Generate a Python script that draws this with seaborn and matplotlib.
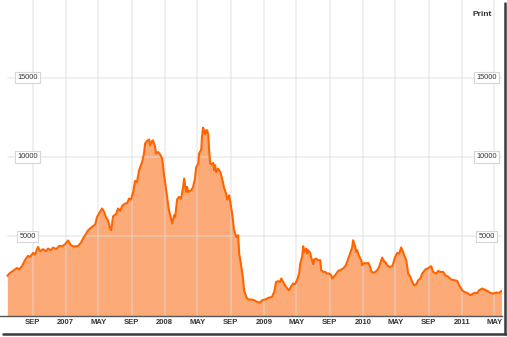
import pandas as pd
import matplotlib.pyplot as plt
import seaborn as sns
from matplotlib.lines import Line2D

# index values, days counted from the first point
start = pd.Timestamp('2006-05-31')
day = [0, 10, 21, 36, 43, 54, 65, 76, 84, 95, 102, 113, 121, 132, 143, 150, 161, 169, 180, 191,
       202, 213, 224, 235, 246, 261, 272, 279, 287, 298, 312, 324, 331, 342, 349, 357, 364, 371, 379, 383,
       390, 401, 408, 416, 423, 430, 442, 449, 456, 464, 471, 478, 486, 497, 504, 508, 515, 523, 526, 534,
       537, 545, 548, 556, 563, 571, 578, 589, 596, 608, 615, 619, 626, 633, 641, 648, 652, 659, 663, 667,
       678, 685, 692, 696, 704, 707, 715, 718, 722, 726, 730, 733, 737, 741, 744, 748, 755, 759, 763, 766,
       770, 777, 785, 792, 799, 807, 810, 818, 822, 829, 836, 844, 851, 855, 862, 869, 873, 881, 888, 899,
       910, 921, 932, 940, 951, 962, 976, 984, 991, 999, 1006, 1010, 1017, 1024, 1032, 1039, 1047, 1054, 1061, 1069,
       1076, 1080, 1087, 1091, 1095, 1102, 1106, 1109, 1117, 1120, 1128, 1131, 1139, 1146, 1154, 1157, 1165, 1172, 1179, 1187,
       1194, 1198, 1209, 1220, 1227, 1238, 1246, 1253, 1264, 1272, 1275, 1279, 1283, 1286, 1290, 1297, 1305, 1308, 1316, 1323,
       1331, 1338, 1342, 1349, 1357, 1364, 1371, 1379, 1382, 1390, 1393, 1401, 1408, 1419, 1423, 1430, 1438, 1445, 1452, 1456,
       1463, 1471, 1478, 1486, 1493, 1500, 1508, 1515, 1523, 1530, 1541, 1549, 1563, 1570, 1581, 1589, 1596, 1607, 1615, 1626,
       1637, 1648, 1659, 1666, 1677, 1685, 1696, 1707, 1714, 1722, 1733, 1740, 1751, 1759, 1770, 1781, 1792, 1803, 1814, 1822]
value = [2497, 2686, 2812, 3001, 2900, 3108, 3487, 3758, 3695, 3947, 3846, 4325, 4054, 4180, 4054, 4224, 4117, 4287, 4180, 4388,
         4369, 4495, 4729, 4432, 4350, 4388, 4603, 4855, 5063, 5378, 5586, 5738, 6217, 6532, 6746, 6532, 6179, 6009, 5485, 5378,
         6261, 6387, 6746, 6595, 6891, 7018, 7099, 7377, 7314, 7793, 8487, 8423, 9161, 9684, 10214, 10845, 11009, 11097, 10737, 11009,
         11053, 10630, 10214, 10315, 10170, 9899, 8846, 7478, 6639, 5801, 6324, 6217, 7314, 7478, 7377, 8108, 8638, 7793, 8108, 7793,
         7900, 8108, 8638, 9331, 9584, 10214, 10466, 11305, 11853, 11576, 11431, 11683, 11683, 11368, 10422, 9584, 9540, 9622, 9161, 9476,
         9054, 9268, 9054, 8638, 8070, 7692, 7314, 7585, 7162, 6431, 5378, 4956, 5063, 3909, 3171, 2333, 1595, 1173, 1009, 1009,
         965, 857, 820, 965, 1009, 1110, 1173, 1488, 2118, 2163, 2118, 2333, 2118, 1910, 1702, 1595, 1847, 2018, 1973, 2270,
         2648, 3279, 3695, 4369, 4010, 4224, 3909, 4117, 3947, 3695, 3234, 3531, 3594, 3487, 3487, 2856, 2749, 2749, 2648, 2648,
         2541, 2333, 2541, 2812, 2856, 2963, 3108, 3379, 3909, 4325, 4748, 4540, 4325, 4010, 4117, 3739, 3487, 3171, 3316, 3279,
         3316, 3064, 2793, 2686, 2749, 2856, 3064, 3487, 3657, 3379, 3379, 3171, 3064, 3108, 3279, 3695, 3947, 3909, 4287, 4161,
         3802, 3487, 2648, 2434, 2118, 1910, 1973, 2226, 2333, 2648, 2900, 2963, 3108, 2749, 2648, 2812, 2749, 2749, 2541, 2434,
         2270, 2226, 2182, 1910, 1595, 1488, 1425, 1280, 1343, 1425, 1425, 1595, 1702, 1639, 1551, 1425, 1387, 1450, 1425, 1551]

tick_dates = ['2006-09-01', '2007-01-01', '2007-05-01', '2007-09-01', '2008-01-01', '2008-05-01',
              '2008-09-01', '2009-01-01', '2009-05-01', '2009-09-01', '2010-01-01', '2010-05-01',
              '2010-09-01', '2011-01-01', '2011-05-01']
tick_labels = ['SEP', '2007', 'MAY', 'SEP', '2008', 'MAY', 'SEP', '2009', 'MAY', 'SEP',
               '2010', 'MAY', 'SEP', '2011', 'MAY']
y_ticks = [5000, 10000, 15000]

df = pd.DataFrame({'date': start + pd.to_timedelta(day, unit='D'), 'value': value})

sns.set_style('white')
plt.rcParams['font.family'] = ['Liberation Sans', 'DejaVu Sans']

fig = plt.figure(figsize=(5.07, 3.37), dpi=100)
ax = fig.add_axes([0, 21.5 / 337, 502 / 507, 315.5 / 337])

ax.fill_between(df['date'], df['value'], color='#fcab78', lw=0, zorder=1)
sns.lineplot(data=df, x='date', y='value', ax=ax, color='#ff6400', lw=1.5, zorder=3)

# grid
for t in tick_dates:
    ax.axvline(pd.Timestamp(t), color='#dcdcdc', lw=1.2, alpha=0.5, zorder=2)
for v in y_ticks:
    ax.axhline(v, xmin=0.016, color='#dcdcdc', lw=1.2, alpha=0.5, zorder=2)

ax.set_xlim(pd.Timestamp('2006-05-04'), pd.Timestamp('2011-05-29'))
ax.set_ylim(0, 19900)

ax.set_xticks(pd.to_datetime(tick_dates))
ax.set_xticklabels(tick_labels, fontsize=5.5, fontweight='bold', color='#333333')
ax.tick_params(axis='x', length=0, pad=2.3)
ax.set_yticks([])
ax.set_xlabel('')
ax.set_ylabel('')

for s in ['top', 'left', 'right']:
    ax.spines[s].set_visible(False)
ax.spines['bottom'].set_color('#555555')
ax.spines['bottom'].set_linewidth(1)

# boxed value labels on both sides
box = dict(boxstyle='square,pad=0.3', fc='white', ec='#d6d6d6', lw=0.8)
for v in y_ticks:
    for xa in [0.0548, 0.9695]:
        ax.text(xa, v, str(v), transform=ax.get_yaxis_transform(), ha='center', va='center',
                fontsize=5.3, color='#333333', bbox=box, zorder=5)

fig.text(482 / 507, 1 - 14 / 337, 'Print', ha='center', va='center', fontsize=6,
         fontweight='bold', color='#333333')

# frame shadow
fig.add_artist(Line2D([3 / 507, 506 / 507], [1 - 334 / 337] * 2, color='#3a3a3a', lw=1.8))
fig.add_artist(Line2D([505 / 507] * 2, [1 - 3 / 337, 1 - 334 / 337], color='#3a3a3a', lw=1.8))

fig.savefig('out.png', dpi=100)
